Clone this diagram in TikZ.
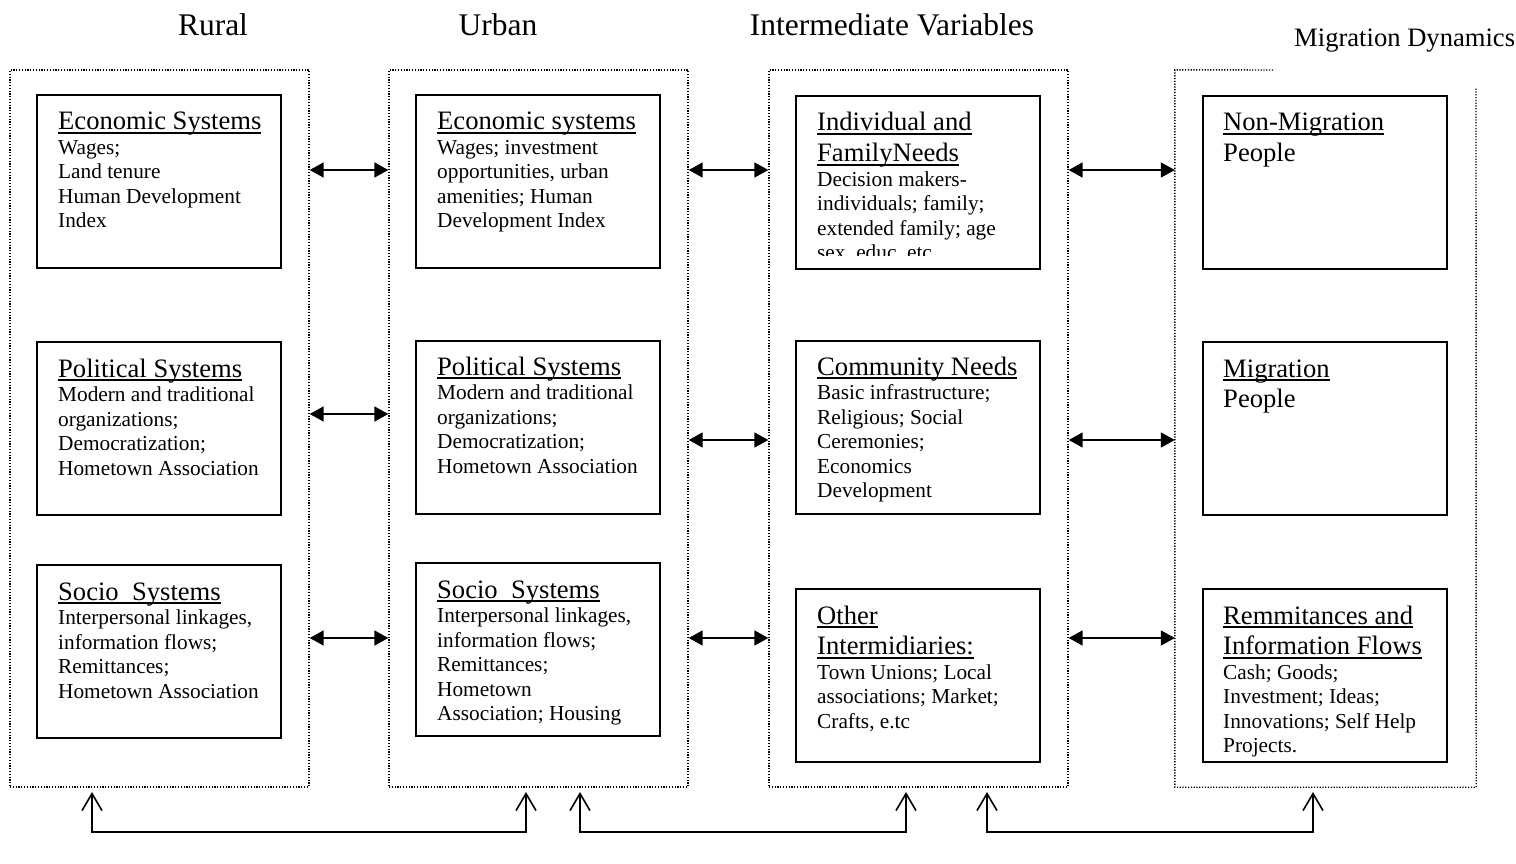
\documentclass[tikz,border=0pt]{standalone}
\usepackage{fontspec}
\setmainfont{Liberation Serif}
\usetikzlibrary{arrows.meta}
\newcommand\hdrfont{\fontsize{31.5}{36}\selectfont}
\newcommand\ttlfont{\fontsize{26.6}{30.6}\selectfont}
\newcommand\bdyfont{\fontsize{21.3}{24.5}\selectfont}
\newcommand\uln[1]{\leavevmode\setbox0\hbox{#1}\rlap{\rule[-4pt]{\wd0}{1.8pt}}\box0}
\newcommand\boxtext[2]{\parbox[t]{228pt}{\raggedright\ttlfont #1\par\bdyfont #2\par}}
\begin{document}
\begin{tikzpicture}[x=1pt,y=-1pt,
  frame/.style={draw,line width=1.4pt,dash pattern=on 1.2pt off 1.6pt,minimum width=299pt,minimum height=717pt,inner sep=0pt},
  ibox/.style={draw,line width=2pt,minimum width=244pt,minimum height=173pt,inner sep=0pt},
  txt/.style={inner sep=0pt,anchor=base west},
  hdr/.style={inner sep=0pt,anchor=base,font=\hdrfont},
  dbl/.style={line width=1.8pt,{Triangle[length=14pt,width=15pt]}-{Triangle[length=14pt,width=15pt]}},
  barb/.style={line width=1.6pt,{Straight Barb[length=17pt,width=20pt]}-{Straight Barb[length=17pt,width=20pt]}}]
\useasboundingbox (0,0) rectangle (1516,864);

% headers
\node[hdr] (hR) at (213,36) {Rural};
\node[hdr] (hU) at (498,36) {Urban};
\node[hdr] (hI) at (892,36) {Intermediate Variables};
\node[inner sep=0pt,anchor=base west,font=\ttlfont] (hM) at (1294,47) {Migration Dynamics};

% frames
\node[frame] (rf) at (159.5,428.5) {};
\node[frame] (uf) at (538.5,428.5) {};
\node[frame] (if) at (918.5,428.5) {};
\node[minimum width=301pt,minimum height=717pt,inner sep=0pt] (mf) at (1325.5,428.5) {};
\draw[line width=1.4pt,dash pattern=on 1.2pt off 1.6pt] (1273,70) -- (mf.north west) -- (mf.south west) -- (mf.south east) -- (1476,88);

% rural boxes
\node[ibox] (re) at (159,181.5) {};
\node[ibox] (rp) at (159,428.5) {};
\node[ibox] (rs) at (159,651.5) {};
% urban boxes
\node[ibox] (ue) at (538,181.5) {};
\node[ibox] (up) at (538,427) {};
\node[ibox] (us) at (538,649.5) {};
% intermediate boxes
\node[ibox] (ie) at (918,182.5) {};
\node[ibox] (ip) at (918,427.5) {};
\node[ibox] (is) at (918,675.5) {};
% migration boxes
\node[ibox] (me) at (1325,182.5) {};
\node[ibox] (mp) at (1325,428.5) {};
\node[ibox] (ms) at (1325,675.5) {};

% texts
\node[txt] (tre) at (58,130) {\boxtext{\uln{Economic Systems}}{Wages;\\Land tenure\\Human Development\\Index}};
\node[txt] (trp) at (58,377) {\boxtext{\uln{Political Systems}}{Modern and traditional\\organizations;\\Democratization;\\Hometown Association}};
\node[txt] (trs) at (58,600) {\boxtext{\uln{Socio\ \ Systems}}{Interpersonal linkages,\\information flows;\\Remittances;\\Hometown Association}};

\node[txt] (tue) at (437,130) {\boxtext{\uln{Economic systems}}{Wages; investment\\opportunities, urban\\amenities; Human\\Development Index}};
\node[txt] (tup) at (437,375) {\boxtext{\uln{Political Systems}}{Modern and traditional\\organizations;\\Democratization;\\Hometown Association}};
\node[txt] (tus) at (437,598) {\boxtext{\uln{Socio\ \ Systems}}{Interpersonal linkages,\\information flows;\\Remittances;\\Hometown\\Association; Housing}};

\begin{scope}
\clip (796,96) rectangle (1040,255);
\node[txt] (tie) at (817,131) {\boxtext{\uln{Individual and}\\\uln{FamilyNeeds}}{Decision makers-\\individuals; family;\\extended family; age\\sex, educ, etc.}};
\end{scope}
\node[txt] (tip) at (817,375) {\boxtext{\uln{Community Needs}}{Basic infrastructure;\\Religious; Social\\Ceremonies;\\Economics\\Development}};
\node[txt] (tis) at (817,624) {\boxtext{\uln{Other}\\\uln{Intermidiaries:}}{Town Unions; Local\\associations; Market;\\Crafts, e.tc}};

\node[txt] (tme) at (1223,131) {\boxtext{\uln{Non-Migration}\\People}{}};
\node[txt] (tmp) at (1223,377) {\boxtext{\uln{Migration}\\People}{}};
\node[txt] (tms) at (1223,624) {\boxtext{\uln{Remmitances and}\\\uln{Information Flows}}{Cash; Goods;\\Investment; Ideas;\\Innovations; Self Help\\Projects.}};

% horizontal double arrows
\draw[dbl] (rf.east |- 0,170) -- (uf.west |- 0,170);
\draw[dbl] (rf.east |- 0,414) -- (uf.west |- 0,414);
\draw[dbl] (rf.east |- 0,638) -- (uf.west |- 0,638);
\draw[dbl] (uf.east |- 0,170) -- (if.west |- 0,170);
\draw[dbl] (uf.east |- 0,440) -- (if.west |- 0,440);
\draw[dbl] (uf.east |- 0,638) -- (if.west |- 0,638);
\draw[dbl] (if.east |- 0,170) -- (mf.west |- 0,170);
\draw[dbl] (if.east |- 0,440) -- (mf.west |- 0,440);
\draw[dbl] (if.east |- 0,638) -- (mf.west |- 0,638);

% bottom connectors
\coordinate (b1) at (92,792);
\coordinate (b2) at (526,792);
\coordinate (b3) at (580,792);
\coordinate (b4) at (906,792);
\coordinate (b5) at (987,792);
\coordinate (b6) at (1313,792);
\draw[barb] (b1) -- ++(0,40) -| (b2);
\draw[barb] (b3) -- ++(0,40) -| (b4);
\draw[barb] (b5) -- ++(0,40) -| (b6);
\end{tikzpicture}
\end{document}
